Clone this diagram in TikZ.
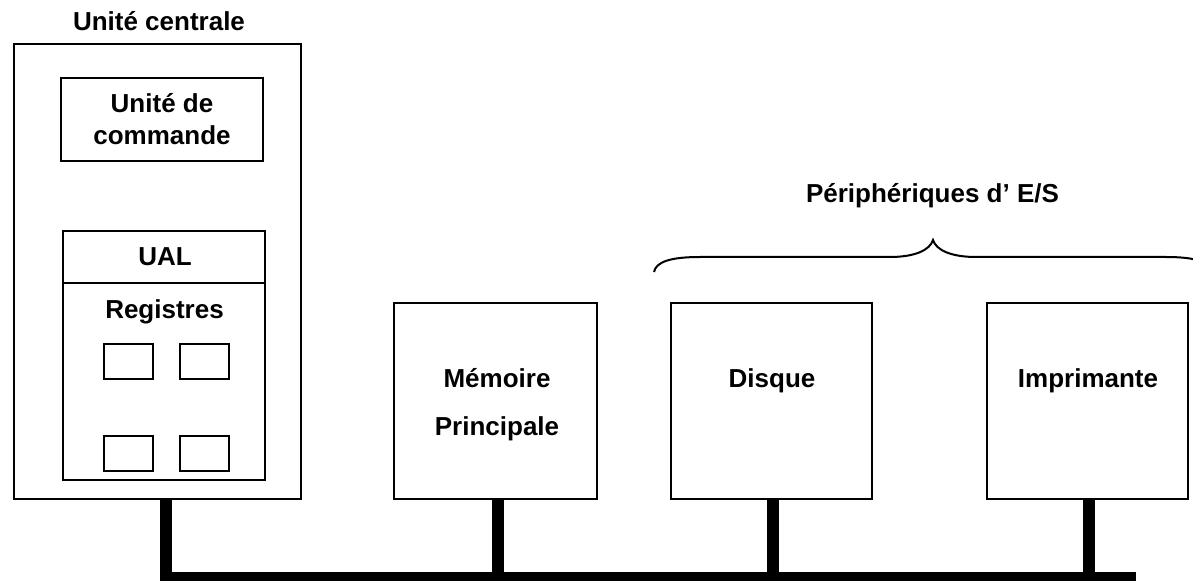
\documentclass[tikz,border=0pt]{standalone}
\usepackage{fontspec}
\setmainfont{Liberation Sans}
\begin{document}
\begin{tikzpicture}[x=1bp,y=-1bp,
  box/.style={draw=black, line width=2bp, rectangle, inner sep=0pt, fill=white},
  lbl/.style={anchor=base, inner sep=0pt, font=\fontsize{26bp}{31bp}\selectfont\bfseries},
  bus/.style={line width=12bp, line join=miter, line cap=butt},
  brace/.style={line width=2bp}]
\useasboundingbox (0,0) rectangle (1193,581);
% bus
\coordinate (busL) at (166,578);
\coordinate (busR) at (1136,578);
\coordinate (mB) at (498,578);
\coordinate (dB) at (772.5,578);
\coordinate (pB) at (1088.5,578);
% boxes
\node[box, minimum width=287bp, minimum height=455bp] (cpu) at (157.5,271.5) {};
\node[box, minimum width=202bp, minimum height=83bp] (cmd) at (162,119.5) {};
\node[box, minimum width=202bp, minimum height=52bp] (ual) at (164,257) {};
\node[box, minimum width=202bp, minimum height=197bp] (regs) at (164,381.5) {};
\node[box, minimum width=49bp, minimum height=35bp] (r1) at (128.5,361.5) {};
\node[box, minimum width=49bp, minimum height=35bp] (r2) at (204.5,361.5) {};
\node[box, minimum width=49bp, minimum height=35bp] (r3) at (128.5,453.5) {};
\node[box, minimum width=49bp, minimum height=35bp] (r4) at (204.5,453.5) {};
\node[box, minimum width=203bp, minimum height=196bp] (mem) at (495.5,401) {};
\node[box, minimum width=201bp, minimum height=196bp] (disk) at (771.5,401) {};
\node[box, minimum width=201bp, minimum height=196bp] (prn) at (1087.5,401) {};
% labels
\node[lbl] (tcpu) at (159,30.5) {Unité centrale};
\node[lbl] (tcmd1) at (162,113) {Unité de};
\node[lbl] (tcmd2) at (162,145) {commande};
\node[lbl] (tual) at (165,265.5) {UAL};
\node[lbl] (treg) at (164.5,319) {Registres};
\node[lbl] (tmem1) at (497,387) {Mémoire};
\node[lbl] (tmem2) at (497,435) {Principale};
\node[lbl] (tdisk) at (772,387) {Disque};
\node[lbl] (tprn) at (1088,387) {Imprimante};
\node[lbl] (tper) at (932.5,203) {Périphériques d’ E/S};
% bus connectors
\draw[bus] (cpu.south -| busL) -- (busL) -- (busR);
\draw[bus] (mem.south -| mB) -- (mB);
\draw[bus] (disk.south -| dB) -- (dB);
\draw[bus] (prn.south -| pB) -- (pB);
% brace
\draw[brace] (654,272) .. controls (656,262) and (670,257) .. (700,257)
  -- (890,257) .. controls (915,257) and (930,250) .. (933,240)
  .. controls (936,250) and (951,257) .. (976,257)
  -- (1166,257) .. controls (1196,257) and (1210,262) .. (1212,272);
\end{tikzpicture}
\end{document}
